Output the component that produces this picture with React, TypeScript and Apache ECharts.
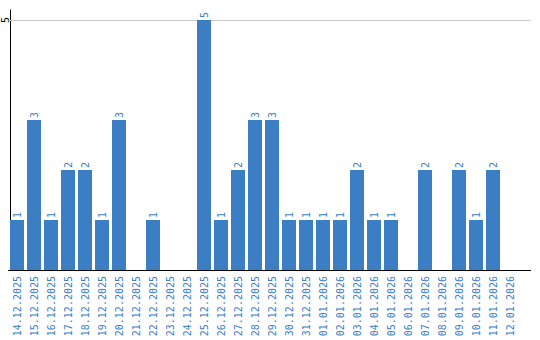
import React, { useEffect, useRef } from "react";
import * as echarts from "echarts";

const categories = [
  "14.12.2025", "15.12.2025", "16.12.2025", "17.12.2025", "18.12.2025", "19.12.2025",
  "20.12.2025", "21.12.2025", "22.12.2025", "23.12.2025", "24.12.2025", "25.12.2025",
  "26.12.2025", "27.12.2025", "28.12.2025", "29.12.2025", "30.12.2025", "31.12.2025",
  "01.01.2026", "02.01.2026", "03.01.2026", "04.01.2026", "05.01.2026", "06.01.2026",
  "07.01.2026", "08.01.2026", "09.01.2026", "10.01.2026", "11.01.2026", "12.01.2026",
];

const counts = [
  1, 3, 1, 2, 2, 1, 3, 0, 1, 0, 0, 5, 1, 2, 3, 3, 1, 1,
  1, 1, 2, 1, 1, 0, 2, 0, 2, 1, 2, 0,
];

const yTickLabels = [5];

const BLUE = "#3b7ec3";
const FONT = "DejaVu Sans Mono";

export default function App() {
  const ref = useRef<HTMLDivElement>(null);
  useEffect(() => {
    if (!ref.current) return;
    const chart = echarts.init(ref.current, undefined, { renderer: "svg" });
    chart.setOption({
      animation: false,
      grid: {
        left: 8.5,
        top: 10,
        width: 510,
        bottom: 70,
        containLabel: false,
        outerBoundsMode: "none",
      },
      xAxis: {
        type: "category",
        data: categories,
        axisLine: { show: true, lineStyle: { color: "#000", width: 1 } },
        axisTick: { show: false },
        axisLabel: {
          interval: 0,
          rotate: 90,
          margin: 6,
          color: BLUE,
          fontFamily: FONT,
          fontSize: 10,
        },
      },
      yAxis: {
        type: "value",
        min: 0,
        max: 5.2,
        interval: 5,
        offset: -2,
        axisLine: { show: true, lineStyle: { color: "#000", width: 1 } },
        axisTick: { show: false },
        splitLine: { show: false },
        axisLabel: {
          rotate: 90,
          margin: 0.5,
          color: "#000",
          fontFamily: FONT,
          fontSize: 10,
          align: "center",
          verticalAlign: "bottom",
          formatter: (v: number) => (yTickLabels.includes(v) ? String(v) : ""),
        },
      },
      series: [
        {
          type: "bar",
          data: counts,
          barWidth: 14,
          itemStyle: { color: BLUE },
          label: {
            show: true,
            position: "top",
            rotate: 90,
            align: "left",
            verticalAlign: "middle",
            distance: 2,
            color: BLUE,
            fontFamily: FONT,
            fontSize: 10,
            formatter: (p: any) => (p.value ? String(p.value) : ""),
          },
          markLine: {
            silent: true,
            symbol: "none",
            label: { show: false },
            lineStyle: { color: "#c8c8c8", width: 1, type: "solid" },
            data: yTickLabels.map((v) => ({ yAxis: v })),
            z: 1,
          },
        },
      ],
      graphic: [
        {
          type: "line",
          shape: { x1: 518, y1: 20.5, x2: 531, y2: 20.5 },
          style: { stroke: "#c8c8c8", lineWidth: 1 },
        },
        {
          type: "line",
          shape: { x1: 518, y1: 270.5, x2: 531, y2: 270.5 },
          style: { stroke: "#000", lineWidth: 1 },
        },
      ],
    });
    return () => chart.dispose();
  }, []);
  return <div ref={ref} style={{ width: 540, height: 340, position: "absolute", left: 0, top: 0 }} />;
}
